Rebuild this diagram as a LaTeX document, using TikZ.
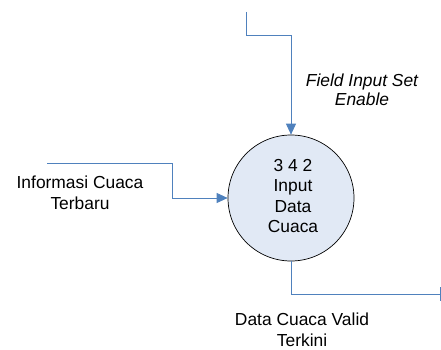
\documentclass[tikz,border=0pt]{standalone}
\usepackage{fontspec}
\setmainfont{Liberation Sans}
\usetikzlibrary{arrows.meta}
\definecolor{flowblue}{RGB}{79,129,189}
\definecolor{procfill}{RGB}{225,233,245}
\begin{document}
\begin{tikzpicture}[x=1pt,y=-1pt,
  flow/.style={draw=flowblue,line width=0.9pt,-{Triangle[length=11pt,width=10pt]}},
  plainflow/.style={draw=flowblue,line width=0.9pt},
  process/.style={circle,draw=black,line width=0.7pt,fill=procfill,minimum size=126pt,inner sep=0pt},
  lbl/.style={align=center,font=\fontsize{17.4}{20.5}\selectfont,inner sep=0pt}]
\useasboundingbox (0,0) rectangle (441,350);

% process bubble
\node[process] (p) at (291,198) {};
\node[lbl] (ptext) at (293,196) {3 4 2\\Input\\Data\\Cuaca};

% incoming flow from above
\coordinate (ts) at (246,12);
\coordinate (t1) at (246,35);
\coordinate (t2) at (291,35);
\draw[flow] (ts) -- (t1) -- (t2) -- (p.north);
\node[lbl,font=\fontsize{17.4}{19}\selectfont\itshape] (tl) at (362,90) {Field Input Set\\Enable};

% incoming flow from the left
\coordinate (ls) at (47,163);
\coordinate (l1) at (172,163);
\coordinate (l2) at (172,198);
\draw[flow] (ls) -- (l1) -- (l2) -- (p.west);
\node[lbl] (ll) at (80,193) {Informasi Cuaca\\Terbaru};

% outgoing flow to the right
\coordinate (b1) at (291,294);
\coordinate (be) at (440.5,294);
\draw[plainflow] (p.south) -- (b1) -- (be);
\coordinate (bt1) at (440.5,287);
\coordinate (bt2) at (440.5,301);
\draw[plainflow] (bt1) -- (bt2);
\node[lbl] (bl) at (302,330) {Data Cuaca Valid\\Terkini};
\end{tikzpicture}
\end{document}
